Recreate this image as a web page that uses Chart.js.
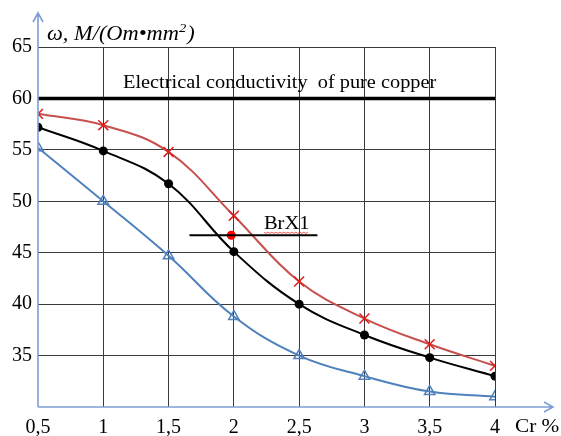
<!DOCTYPE html>
<html>
<head>
<meta charset="utf-8">
<script src="https://cdn.jsdelivr.net/npm/chart.js@4/dist/chart.umd.min.js"></script>
<style>
html,body{margin:0;padding:0;background:#fff;}
canvas{display:block;}
</style>
</head>
<body>
<canvas id="c" width="561" height="436"></canvas>
<script>
// ---- data ----
const crValues = [0.5, 1, 1.5, 2, 2.5, 3, 3.5, 4];
const xTickLabels = ['0,5', '1', '1,5', '2', '2,5', '3', '3,5', '4'];
const yTickValues = [30, 35, 40, 45, 50, 55, 60, 65];
const yTickLabels = ['', '35', '40', '45', '50', '55', '60', '65'];
const redSeries = [58.5, 57.4, 54.8, 48.6, 42.2, 38.6, 36.1, 34.0];
const blackSeries = [57.2, 54.9, 51.7, 45.1, 40.0, 37.0, 34.8, 33.0];
const blueSeries = [55.2, 50.0, 44.7, 38.8, 35.0, 33.0, 31.5, 31.0];
const copperLevel = 60;
const copperLabel = 'Electrical conductivity  of pure copper';
const brx1Point = [1.98, 46.7];
const brx1LineX = [1.66, 2.64];
const brx1Label = 'BrX1';
const yTitle = 'ω, M/(Om•mm';
const xTitle = 'Cr %';

const SERIF = '"Liberation Serif", "Times New Roman", serif';
const toXY = (xs, ys) => xs.map((x, i) => ({x: x, y: ys[i]}));

function stretchText(ctx, text, x, y, sx) {
  ctx.save();
  ctx.translate(x, y);
  ctx.scale(sx, 1);
  ctx.fillText(text, 0, 0);
  const w = ctx.measureText(text).width * sx;
  ctx.restore();
  return w;
}

const overlay = {
  id: 'overlay',
  afterDraw(chart) {
    const ctx = chart.ctx;
    const a = chart.chartArea;
    const xs = chart.scales.x, ys = chart.scales.y;
    ctx.save();
    // axes with arrows
    ctx.strokeStyle = '#7c9fd3';
    ctx.lineWidth = 1.6;
    ctx.beginPath();
    ctx.moveTo(a.left, a.bottom);
    ctx.lineTo(a.left, 13);
    ctx.moveTo(a.left - 5, 22);
    ctx.lineTo(a.left, 13);
    ctx.lineTo(a.left + 5, 22);
    ctx.moveTo(a.left, a.bottom);
    ctx.lineTo(553, a.bottom);
    ctx.moveTo(544, a.bottom - 5);
    ctx.lineTo(553, a.bottom);
    ctx.lineTo(544, a.bottom + 5);
    ctx.stroke();

    ctx.fillStyle = '#000';
    ctx.textBaseline = 'alphabetic';
    ctx.textAlign = 'left';
    // y title
    ctx.font = 'italic 20px ' + SERIF;
    let x0 = 47;
    x0 += stretchText(ctx, yTitle, x0, 40, 1.12);
    ctx.font = 'italic 13px ' + SERIF;
    x0 += stretchText(ctx, '2', x0, 32, 1.12);
    ctx.font = 'italic 20px ' + SERIF;
    stretchText(ctx, ')', x0 + 1, 40, 1.12);

    // copper label
    ctx.font = '19px ' + SERIF;
    stretchText(ctx, copperLabel, 123, ys.getPixelForValue(copperLevel) - 10, 1.07);

    // BrX1 label
    const bx = xs.getPixelForValue(2.23), by = ys.getPixelForValue(brx1Point[1]) - 6;
    ctx.font = '19px ' + SERIF;
    const bw = stretchText(ctx, brx1Label, bx, by, 1.08);
    ctx.strokeStyle = '#e03030';
    ctx.lineWidth = 0.8;
    ctx.beginPath();
    for (let i = 0; i <= bw; i += 2) {
      const yy = by + 3 + ((i / 2) % 2 ? 1.2 : 0);
      if (i === 0) ctx.moveTo(bx + i, yy); else ctx.lineTo(bx + i, yy);
    }
    ctx.stroke();

    // x title
    ctx.font = '19px ' + SERIF;
    stretchText(ctx, xTitle, 515, 432, 1.12);
    ctx.restore();
  }
};

new Chart(document.getElementById('c'), {
  type: 'line',
  data: {
    datasets: [
      {
        data: [{x: crValues[0], y: copperLevel}, {x: crValues[crValues.length - 1], y: copperLevel}],
        borderColor: '#000', borderWidth: 3.5, pointRadius: 0, tension: 0
      },
      {
        data: [{x: brx1LineX[0], y: brx1Point[1]}, {x: brx1LineX[1], y: brx1Point[1]}],
        borderColor: '#000', borderWidth: 2, pointRadius: 0, tension: 0
      },
      {
        data: toXY(crValues, blueSeries),
        borderColor: '#4f81bd', borderWidth: 2, tension: 0.4,
        pointStyle: 'triangle', pointRadius: 6, pointBorderWidth: 1.5,
        pointBorderColor: '#4f81bd', pointBackgroundColor: 'rgba(255,255,255,0)'
      },
      {
        data: toXY(crValues, redSeries),
        borderColor: '#c6504e', borderWidth: 2, tension: 0.4,
        pointStyle: 'crossRot', pointRadius: 7, pointBorderWidth: 1.5,
        pointBorderColor: '#e01c1c'
      },
      {
        data: toXY(crValues, blackSeries),
        borderColor: '#000', borderWidth: 2, tension: 0.4,
        pointStyle: 'circle', pointRadius: 4.5, pointBorderWidth: 0,
        pointBackgroundColor: '#000'
      },
      {
        data: [{x: brx1Point[0], y: brx1Point[1]}],
        showLine: false, pointRadius: 4.5, pointBorderWidth: 0,
        pointBackgroundColor: '#ff0000'
      }
    ]
  },
  options: {
    responsive: false,
    animation: false,
    layout: {padding: {left: 0, right: 66, top: 47, bottom: 0}},
    plugins: {legend: {display: false}, tooltip: {enabled: false}},
    scales: {
      x: {
        type: 'linear',
        min: crValues[0], max: crValues[crValues.length - 1],
        afterFit(s) { s.height = 29; },
        afterBuildTicks(s) { s.ticks = crValues.map(v => ({value: v})); },
        grid: {
          drawTicks: false,
          color: c => (c.tick && c.tick.value === crValues[0]) ? 'rgba(0,0,0,0)' : '#3a3a3a',
          lineWidth: 1
        },
        border: {display: false},
        ticks: {
          padding: 9,
          color: '#000',
          font: {family: SERIF, size: 20},
          callback: (v) => xTickLabels[crValues.indexOf(v)] ?? ''
        }
      },
      y: {
        type: 'linear',
        min: yTickValues[0], max: yTickValues[yTickValues.length - 1],
        afterFit(s) { s.width = 38; },
        afterBuildTicks(s) { s.ticks = yTickValues.map(v => ({value: v})); },
        grid: {
          drawTicks: false,
          color: c => (c.tick && c.tick.value === yTickValues[0]) ? 'rgba(0,0,0,0)' : '#3a3a3a',
          lineWidth: 1
        },
        border: {display: false},
        ticks: {
          padding: 6,
          color: '#000',
          font: {family: SERIF, size: 20},
          callback: (v) => yTickLabels[yTickValues.indexOf(v)] ?? ''
        }
      }
    }
  },
  plugins: [overlay]
});
</script>
</body>
</html>
